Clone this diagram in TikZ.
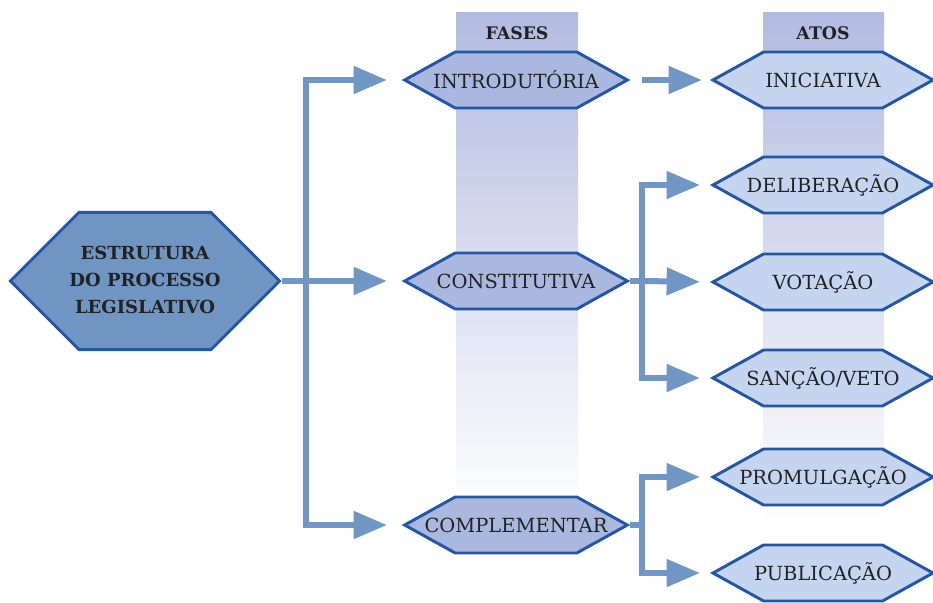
\documentclass[tikz,border=0pt]{standalone}
\usepackage{fontspec}
\setmainfont{DejaVu Serif}
\usetikzlibrary{arrows.meta,positioning,shapes.symbols,calc}
\definecolor{hexline}{HTML}{2356A6}
\definecolor{mainfill}{HTML}{6F95C3}
\definecolor{fasefill}{HTML}{AAB8E0}
\definecolor{atofill}{HTML}{C6D5EF}
\definecolor{arrowblue}{HTML}{7097C4}
\definecolor{colband}{HTML}{B2BBE0}
\definecolor{txt}{HTML}{222222}
\newcommand{\hxt}[1]{\makebox[0pt]{#1}}

\begin{document}
\begin{tikzpicture}[x=0.75pt,y=-0.75pt,every node/.style={font=\fontsize{14.6}{20}\selectfont,text=txt},hexa/.style={shape=signal,signal to=west and east,draw=hexline,line width=2.2pt,inner sep=0pt,minimum height=42pt},fase/.style={hexa,fill=fasefill,signal pointer angle=58,minimum width=167pt},ato/.style={hexa,fill=atofill,signal pointer angle=58,minimum width=165pt},arr/.style={draw=arrowblue,line width=4.5pt,-{Triangle[length=25pt,width=20pt]}},band/.style={top color=colband,bottom color=white},head/.style={font=\bfseries\fontsize{13}{20}\selectfont}]
\useasboundingbox (0,0) rectangle (933,603);
% column bands
\fill[band] (456,12) rectangle (578,515);
\fill[band] (763,12) rectangle (884,525);
\node[head] (fases) at (517,33) {FASES};
\node[head] (atos) at (823,33) {ATOS};
% main node
\node[hexa,fill=mainfill,signal pointer angle=90,minimum width=202pt,minimum height=103pt,font=\bfseries\fontsize{13.5}{20}\selectfont] (estrutura) at (145,281) {\hxt{\begin{tabular}{@{}c@{}}ESTRUTURA\\DO PROCESSO\\LEGISLATIVO\end{tabular}}};
% fases
\node[fase] (intro) at (516,80) {\hxt{INTRODUTÓRIA}};
\node[fase] (constit) at (516,281) {\hxt{CONSTITUTIVA}};
\node[fase] (compl) at (516,525) {\hxt{COMPLEMENTAR}};
% atos
\node[ato] (inic) at (823,80) {\hxt{INICIATIVA}};
\node[ato] (delib) at (823,185) {\hxt{DELIBERAÇÃO}};
\node[ato] (vot) at (823,282) {\hxt{VOTAÇÃO}};
\node[ato] (sancao) at (823,378) {\hxt{SANÇÃO/VETO}};
\node[ato] (promul) at (823,477) {\hxt{PROMULGAÇÃO}};
\node[ato] (public) at (823,573) {\hxt{PUBLICAÇÃO}};
\coordinate (tronco) at (306,281);
\coordinate (ramoA) at (642,281);
\coordinate (ramoB) at (642,525);
\draw[arr,shorten >=11pt] (estrutura.east) -- (tronco) |- (intro.west);
\draw[arr,shorten >=11pt] (tronco) -- (constit.west);
\draw[arr,shorten >=11pt] (tronco) |- (compl.west);
\draw[arr,shorten <=9pt,shorten >=6pt] (intro.east) -- (inic.west);
\draw[arr,shorten >=7.5pt] (constit.east) -- (ramoA) |- (delib.west);
\draw[arr,shorten >=7.5pt] (ramoA) -- (vot.west);
\draw[arr,shorten >=7.5pt] (ramoA) |- (sancao.west);
\draw[arr,shorten >=7.5pt] (compl.east) -- (ramoB) |- (promul.west);
\draw[arr,shorten >=7.5pt] (ramoB) |- (public.west);
\end{tikzpicture}
\end{document}
